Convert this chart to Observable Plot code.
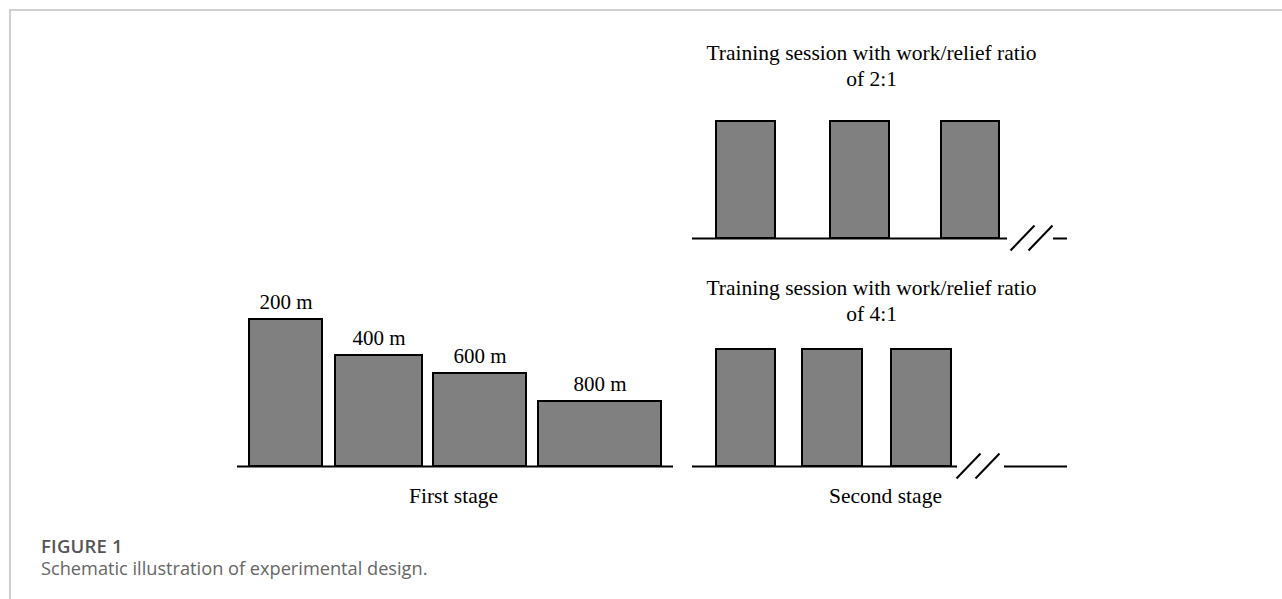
<!DOCTYPE html>
<html>
<head>
<meta charset="utf-8">
<script src="https://cdn.jsdelivr.net/npm/d3@7"></script>
<script src="https://cdn.jsdelivr.net/npm/@observablehq/plot@0.6"></script>
<style>
  html, body { margin: 0; padding: 0; background: #fff; }
  body { width: 1282px; height: 599px; position: relative; overflow: hidden; }
  #frame { position: absolute; left: 9px; top: 9px; width: 1400px; height: 700px;
           border-top: 2px solid #cfcfcf; border-left: 2px solid #cfcfcf; }
  #chart { position: absolute; left: 0; top: 0; }
  #fig { position: absolute; left: 41px; top: 533px; font-family: "Open Sans", sans-serif;
         font-weight: 600; font-size: 18.5px; line-height: normal; color: #555; letter-spacing: 0.2px; }
  #cap { position: absolute; left: 41px; top: 556px; font-family: "Open Sans", sans-serif;
         font-size: 18.2px; line-height: normal; color: #666; }
</style>
</head>
<body>
<div id="frame"></div>
<div id="chart"></div>
<div id="fig">FIGURE 1</div>
<div id="cap">Schematic illustration of experimental design.</div>
<script>
// ---- First stage: distances, bar extents (time) and heights (intensity)
const stage1Labels = ["200 m", "400 m", "600 m", "800 m"];
const stage1Start  = [249, 335, 433, 538];
const stage1End    = [322, 422, 526, 661];
const stage1Height = [147, 111, 93, 65];
const stage1Axis   = [237, 673];

// ---- Second stage: two training sessions (rows)
const sessionRatios  = ["2:1", "4:1"];
const sessionBase    = [228, 0];
const sessionTitleY  = [381, 146];
const sessionHeight  = 117;
const session21Start = [716, 830, 941];
const session21End   = [775, 889, 999];
const session41Start = [716, 802, 891];
const session41End   = [775, 862, 951];
const sessionAxis    = [[692, 1007], [692, 957]];
const sessionTail    = [[1053, 1067], [1004, 1067]];
const sessionBreak   = [[1010, 1028], [956, 975]];

const stageNames = ["First stage", "Second stage"];
const stageNameX = [453, 885];
const stageNameY = -36;

// ---- Build tables
const stage1 = stage1Labels.map((label, i) => ({
  label, x1: stage1Start[i], x2: stage1End[i], y1: 0, y2: stage1Height[i]
}));
const sessionBars = [
  ...session21Start.map((s, i) => ({x1: s, x2: session21End[i], y1: sessionBase[0], y2: sessionBase[0] + sessionHeight})),
  ...session41Start.map((s, i) => ({x1: s, x2: session41End[i], y1: sessionBase[1], y2: sessionBase[1] + sessionHeight}))
];
const axes = [
  {x1: stage1Axis[0], x2: stage1Axis[1], y: 0},
  ...sessionAxis.map((a, i) => ({x1: a[0], x2: a[1], y: sessionBase[i]})),
  ...sessionTail.map((a, i) => ({x1: a[0], x2: a[1], y: sessionBase[i]}))
];
const slashes = sessionBreak.flatMap((b, i) => b.map(x => ({
  x1: x, x2: x + 24, y1: sessionBase[i] - 12, y2: sessionBase[i] + 13
})));
const titles = sessionRatios.map((r, i) => ({
  text: "Training session with work/relief ratio\nof " + r, x: 871, y: sessionTitleY[i]
}));
const stageText = stageNames.map((t, i) => ({text: t, x: stageNameX[i], y: stageNameY}));

const serif = "'Liberation Serif', 'Times New Roman', serif";

const chart = Plot.plot({
  width: 1282,
  height: 520,
  margin: 0,
  x: {domain: [0, 1282], axis: null},
  y: {domain: [-54, 466], axis: null},
  style: {background: "transparent", overflow: "visible"},
  marks: [
    Plot.ruleY(axes, {x1: "x1", x2: "x2", y: "y", stroke: "#000", strokeWidth: 2}),
    Plot.rect(stage1, {x1: "x1", x2: "x2", y1: "y1", y2: "y2", fill: "#808080", stroke: "#000", strokeWidth: 2}),
    Plot.rect(sessionBars, {x1: "x1", x2: "x2", y1: "y1", y2: "y2", fill: "#808080", stroke: "#000", strokeWidth: 2}),
    Plot.link(slashes, {x1: "x1", y1: "y1", x2: "x2", y2: "y2", stroke: "#000", strokeWidth: 2}),
    Plot.text(stage1, {x: d => (d.x1 + d.x2) / 2, y: d => d.y2 + 11, text: "label",
      fontFamily: serif, fontSize: 21, lineAnchor: "bottom", fill: "#000"}),
    Plot.text(titles, {x: "x", y: "y", text: "text", fontFamily: serif, fontSize: 21.5,
      lineAnchor: "bottom", lineHeight: 1.21, fill: "#000"}),
    Plot.text(stageText, {x: "x", y: "y", text: "text", fontFamily: serif, fontSize: 21.5,
      lineAnchor: "bottom", fill: "#000"})
  ]
});
document.getElementById("chart").appendChild(chart);
</script>
</body>
</html>
